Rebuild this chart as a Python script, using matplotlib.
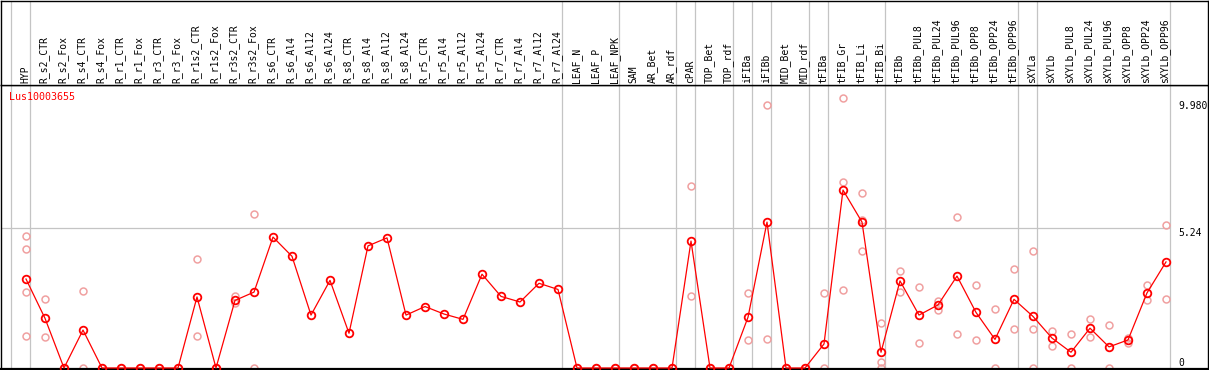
"""
Lus10003655 expression profile across tissues / treatments
"""
import matplotlib
matplotlib.use("Agg")
import matplotlib.pyplot as plt
import matplotlib.transforms as mtransforms

# 样本名称
SAMPLES = [
    "HYP",
    "R_s2_CTR", "R_s2_Fox", "R_s4_CTR", "R_s4_Fox",
    "R_r1_CTR", "R_r1_Fox", "R_r3_CTR", "R_r3_Fox",
    "R_r1s2_CTR", "R_r1s2_Fox", "R_r3s2_CTR", "R_r3s2_Fox",
    "R_s6_CTR", "R_s6_Al4", "R_s6_Al12", "R_s6_Al24",
    "R_s8_CTR", "R_s8_Al4", "R_s8_Al12", "R_s8_Al24",
    "R_r5_CTR", "R_r5_Al4", "R_r5_Al12", "R_r5_Al24",
    "R_r7_CTR", "R_r7_Al4", "R_r7_Al12", "R_r7_Al24",
    "LEAF_N", "LEAF_P", "LEAF_NPK",
    "SAM", "AR_Bet", "AR_rdf",
    "cPAR",
    "TOP_Bet", "TOP_rdf",
    "iFIBa",
    "iFIBb",
    "MID_Bet", "MID_rdf",
    "tFIBa",
    "tFIB_Gr", "tFIB_Li", "tFIB_Bi",
    "tFIBb", "tFIBb_PUL8", "tFIBb_PUL24", "tFIBb_PUL96",
    "tFIBb_OPP8", "tFIBb_OPP24", "tFIBb_OPP96",
    "sXYLa",
    "sXYLb", "sXYLb_PUL8", "sXYLb_PUL24", "sXYLb_PUL96",
    "sXYLb_OPP8", "sXYLb_OPP24", "sXYLb_OPP96",
]

# 平均值 (红线)
MEANS = [
    3.33,
    1.86, 0.0, 1.42, 0.0,
    0.0, 0.0, 0.0, 0.0,
    2.66, 0.0, 2.53, 2.84,
    4.90, 4.18, 1.98, 3.28,
    1.30, 4.57, 4.87, 1.98,
    2.30, 2.02, 1.82, 3.51,
    2.68, 2.47, 3.17, 2.94,
    0.0, 0.0, 0.0,
    0.0, 0.0, 0.0,
    4.75,
    0.0, 0.0,
    1.90,
    5.46,
    0.0, 0.0,
    0.90,
    6.66, 5.46, 0.59,
    3.26, 1.98, 2.36, 3.44,
    2.08, 1.07, 2.57,
    1.93,
    1.12, 0.59, 1.49, 0.79,
    1.05, 2.81, 3.97,
]

# 重复样本 (浅色圆圈)
REPLICATES = [
    [4.94, 4.44, 2.83, 1.19],
    [2.57, 1.16], [0.0], [2.88, 0.0], [0.0],
    [0.0], [0.0], [0.0], [0.0],
    [4.07, 1.19], [0.0], [2.71, 2.42], [5.75, 0.0],
    [], [], [], [],
    [], [], [], [],
    [], [], [], [],
    [], [], [], [],
    [0.0], [0.0], [0.0],
    [0.0], [0.0], [0.0],
    [6.80, 2.69],
    [0.0], [0.0],
    [2.81, 1.05],
    [9.84, 1.09],
    [0.0], [0.0],
    [2.81, 0.0],
    [10.09, 6.95, 2.91],
    [6.55, 4.37, 5.54],
    [1.67, 0.24, 0.0],
    [3.62, 2.84], [3.02, 0.92], [2.51, 2.16], [5.64, 1.26],
    [3.11, 1.05], [2.21, 0.0], [3.70, 1.46],
    [4.37, 1.46, 0.0],
    [1.40, 0.84], [1.26, 0.0], [1.82, 1.15], [1.60, 0.0],
    [1.13, 0.92], [3.11, 2.53], [5.34, 2.57],
]

# 分组分隔线 (在这些样本之后)
GROUP_ENDS = [-1, 0, 28, 31, 34, 35, 37, 38, 39, 41, 42, 45, 52, 53, 60]

GENE = "Lus10003655"
Y_TICKS = [9.98, 5.24, 0]
Y_TICK_LABELS = ["9.980", "5.24", "0"]

W, H = 1209, 370
FONT = "DejaVu Sans Mono"
GRID = "#c4c4c4"


def main():
    fig = plt.figure(figsize=(W / 100, H / 100), dpi=100)

    # 主图区域 (像素 y 85..369)
    ax = fig.add_axes([1 / W, 1 / H, 1207 / W, 284 / H])
    hd = fig.add_axes([1 / W, 285 / H, 1207 / W, 84 / H])

    xlim = ((1 - 26) / 19, (1208 - 26) / 19)
    ax.set_xlim(*xlim)
    ax.set_ylim(-1 / 26.72, 283 / 26.72)
    hd.set_xlim(*xlim)
    hd.set_ylim(0, 1)

    for a in (ax, hd):
        a.set_xticks([])
        a.set_yticks([])
        for s in a.spines.values():
            s.set_color("black")
            s.set_linewidth(1.0)
    ax.spines["bottom"].set_linewidth(1.6)

    # 分组竖线
    for g in GROUP_ENDS:
        xv = g + 4 / 19
        ax.axvline(xv, color=GRID, lw=0.9, zorder=1)
        hd.axvline(xv, color=GRID, lw=0.9, zorder=1)

    # 5.24 水平参考线
    ax.hlines(5.24, xlim[0], GROUP_ENDS[-1] + 4 / 19, color=GRID, lw=0.9, zorder=1)

    # 重复样本
    for i, reps in enumerate(REPLICATES):
        if reps:
            ax.plot([i] * len(reps), reps, linestyle="none", marker="o",
                    markersize=5.0, markerfacecolor="none",
                    markeredgecolor="#f0a0a0", markeredgewidth=1.1, zorder=2,
                    clip_on=False)

    # 平均值折线
    x = list(range(len(SAMPLES)))
    ax.plot(x, MEANS, color="#ff0000", lw=0.9, marker="o", markersize=5.5,
            markerfacecolor="none", markeredgecolor="#ff0000",
            markeredgewidth=1.3, zorder=3, clip_on=False)

    # 样本标签
    for i, name in enumerate(SAMPLES):
        hd.text(i - 0.05, 2 / 84, name, rotation=90, ha="center", va="bottom",
                fontsize=7, family=FONT, color="black")

    # 右侧刻度文字
    tx = (1178 - 26) / 19
    for v, lab in zip(Y_TICKS, Y_TICK_LABELS):
        ax.text(tx, v, lab, ha="left", va="top" if v > 0 else "bottom",
                fontsize=7, family=FONT, color="black")

    ax.text(8 / 1207, 0.977, GENE, transform=ax.transAxes, ha="left",
            va="top", fontsize=7.2, family=FONT, color="#ff0000")

    fig.savefig("out.png", dpi=100)
    plt.close(fig)


if __name__ == "__main__":
    main()
